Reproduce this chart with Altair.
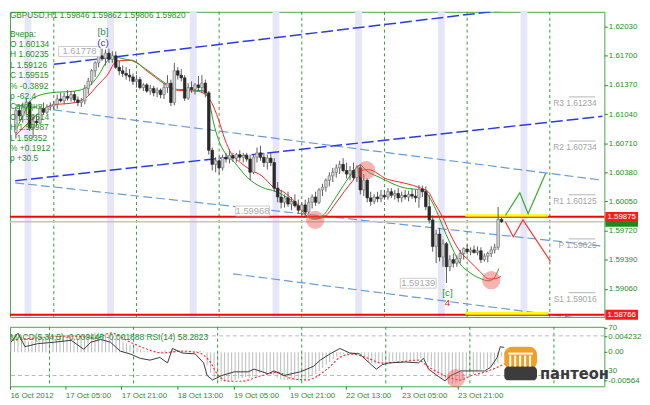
import altair as alt
import pandas as pd

# ---------------- data ----------------
opens = [1.6083, 1.6108, 1.6102, 1.6112, 1.6117, 1.6088, 1.6096, 1.6094, 1.6110, 1.6106,
         1.6112, 1.6113, 1.6115, 1.6121, 1.6119, 1.6124, 1.6122, 1.6126, 1.6120, 1.6117,
         1.6119, 1.6133, 1.6141, 1.6153, 1.6162, 1.6170, 1.6167, 1.6173, 1.6166, 1.6170,
         1.6157, 1.6153, 1.6150, 1.6148, 1.6146, 1.6141, 1.6143, 1.6134, 1.6137, 1.6130,
         1.6133, 1.6128, 1.6131, 1.6126, 1.6134, 1.6139, 1.6117, 1.6153, 1.6148, 1.6145,
         1.6122, 1.6134, 1.6132, 1.6137, 1.6134, 1.6139, 1.6128, 1.6063, 1.6047, 1.6051,
         1.6043, 1.6055, 1.6053, 1.6057, 1.6054, 1.6058, 1.6055, 1.6057, 1.6053, 1.6038,
         1.6055, 1.6060, 1.6055, 1.6049, 1.6054, 1.6049, 1.6020, 1.6010, 1.6004, 1.6009,
         1.6002, 1.6005, 1.6000, 1.5995, 1.6001, 1.5993, 1.6004, 1.6010, 1.6004, 1.6018,
         1.6021, 1.6029, 1.6034, 1.6038, 1.6043, 1.6047, 1.6040, 1.6036, 1.6040, 1.6032,
         1.6043, 1.6018, 1.6029, 1.6009, 1.6005, 1.6010, 1.6008, 1.6012, 1.6010, 1.6016,
         1.6012, 1.6014, 1.6009, 1.6012, 1.6010, 1.6013, 1.6011, 1.6009, 1.6019, 1.6016,
         1.5999, 1.5984, 1.5954, 1.5968, 1.5942, 1.5957, 1.5931, 1.5939, 1.5935, 1.5940,
         1.5946, 1.5951, 1.5948, 1.5950, 1.5947, 1.5949, 1.5939, 1.5943, 1.5946, 1.5950,
         1.5953, 1.59846]
highs = [1.6112, 1.6114, 1.6117, 1.6121, 1.6119, 1.6103, 1.6103, 1.6112, 1.6117, 1.6115,
         1.6117, 1.6119, 1.6126, 1.6128, 1.6128, 1.6131, 1.6130, 1.6130, 1.6124, 1.6122,
         1.6137, 1.6145, 1.6155, 1.6164, 1.6175, 1.6178, 1.6177, 1.6178, 1.6175, 1.6175,
         1.6164, 1.6159, 1.6157, 1.6155, 1.6150, 1.6148, 1.6146, 1.6139, 1.6139, 1.6137,
         1.6136, 1.6134, 1.6133, 1.6139, 1.6148, 1.6143, 1.6162, 1.6157, 1.6155, 1.6148,
         1.6139, 1.6141, 1.6139, 1.6147, 1.6148, 1.6143, 1.6130, 1.6066, 1.6055, 1.6056,
         1.6058, 1.6060, 1.6064, 1.6060, 1.6060, 1.6063, 1.6060, 1.6060, 1.6058, 1.6058,
         1.6066, 1.6068, 1.6060, 1.6058, 1.6060, 1.6054, 1.6027, 1.6018, 1.6013, 1.6016,
         1.6010, 1.6013, 1.6007, 1.6004, 1.6007, 1.6009, 1.6013, 1.6016, 1.6020, 1.6025,
         1.6031, 1.6038, 1.6043, 1.6047, 1.6051, 1.6054, 1.6049, 1.6045, 1.6049, 1.6046,
         1.6047, 1.6036, 1.6031, 1.6016, 1.6013, 1.6016, 1.6018, 1.6018, 1.6020, 1.6020,
         1.6018, 1.6020, 1.6016, 1.6018, 1.6017, 1.6019, 1.6018, 1.60235, 1.6023, 1.6022,
         1.6012, 1.5989, 1.5973, 1.5975, 1.5962, 1.5959, 1.5944, 1.5946, 1.5944, 1.5950,
         1.5953, 1.5956, 1.5953, 1.5955, 1.5954, 1.5953, 1.5946, 1.5948, 1.5954, 1.5957,
         1.59987, 1.59862]
lows = [1.6076, 1.6096, 1.6094, 1.6103, 1.6085, 1.6077, 1.6090, 1.6092, 1.6103, 1.6104,
        1.6108, 1.6109, 1.6110, 1.6117, 1.6115, 1.6119, 1.6118, 1.6117, 1.6113, 1.6112,
        1.6115, 1.6126, 1.6137, 1.6146, 1.6157, 1.6164, 1.6159, 1.6162, 1.6162, 1.6155,
        1.6148, 1.6146, 1.6143, 1.6141, 1.6137, 1.6134, 1.6132, 1.6130, 1.6128, 1.6126,
        1.6124, 1.6123, 1.6122, 1.6121, 1.6128, 1.6113, 1.6114, 1.6143, 1.6141, 1.6119,
        1.6120, 1.6128, 1.6126, 1.6130, 1.6128, 1.6123, 1.6058, 1.6040, 1.6038, 1.6036,
        1.6040, 1.6049, 1.6048, 1.6050, 1.6049, 1.6051, 1.6049, 1.6050, 1.6029, 1.6036,
        1.6049, 1.6051, 1.6044, 1.6041, 1.6045, 1.6016, 1.6004, 1.5997, 1.5998, 1.5999,
        1.5995, 1.5998, 1.5991, 1.5989, 1.5988, 1.5991, 1.5997, 1.6000, 1.6002, 1.6011,
        1.6016, 1.6022, 1.6027, 1.6032, 1.6036, 1.6038, 1.6031, 1.6029, 1.6029, 1.6027,
        1.6013, 1.6011, 1.6004, 1.6000, 1.6002, 1.6004, 1.6004, 1.6007, 1.6007, 1.6009,
        1.6007, 1.6004, 1.6004, 1.6007, 1.6005, 1.6008, 1.6004, 1.5998, 1.6010, 1.5995,
        1.5980, 1.5948, 1.5935, 1.5937, 1.5931, 1.59126, 1.5926, 1.5930, 1.5931, 1.5935,
        1.5939, 1.5945, 1.5944, 1.5946, 1.5944, 1.59352, 1.5937, 1.5936, 1.5942, 1.5946,
        1.5950, 1.59806]
closes = [1.6108, 1.6102, 1.6112, 1.6117, 1.6088, 1.6096, 1.6094, 1.6110, 1.6106, 1.6112,
          1.6113, 1.6115, 1.6121, 1.6119, 1.6124, 1.6122, 1.6126, 1.6120, 1.6117, 1.6119,
          1.6133, 1.6141, 1.6153, 1.6162, 1.6170, 1.6167, 1.6173, 1.6166, 1.6170, 1.6157,
          1.6153, 1.6150, 1.6148, 1.6146, 1.6141, 1.6143, 1.6134, 1.6137, 1.6130, 1.6133,
          1.6128, 1.6131, 1.6126, 1.6134, 1.6139, 1.6117, 1.6153, 1.6148, 1.6145, 1.6122,
          1.6134, 1.6132, 1.6137, 1.6134, 1.6139, 1.6128, 1.6063, 1.6047, 1.6051, 1.6043,
          1.6055, 1.6053, 1.6057, 1.6054, 1.6058, 1.6055, 1.6057, 1.6053, 1.6038, 1.6055,
          1.6060, 1.6055, 1.6049, 1.6054, 1.6049, 1.6020, 1.6010, 1.6004, 1.6009, 1.6002,
          1.6005, 1.6000, 1.5995, 1.6001, 1.5993, 1.6004, 1.6010, 1.6004, 1.6018, 1.6021,
          1.6029, 1.6034, 1.6038, 1.6043, 1.6047, 1.6040, 1.6036, 1.6040, 1.6032, 1.6043,
          1.6018, 1.6029, 1.6009, 1.6005, 1.6010, 1.6008, 1.6012, 1.6010, 1.6016, 1.6012,
          1.6014, 1.6009, 1.6012, 1.6010, 1.6013, 1.6011, 1.6009, 1.6019, 1.6016, 1.5999,
          1.5984, 1.5954, 1.5968, 1.5942, 1.5957, 1.5931, 1.5939, 1.5935, 1.5940, 1.5946,
          1.59515, 1.5948, 1.5950, 1.5947, 1.5949, 1.5939, 1.5943, 1.5946, 1.5950, 1.5953,
          1.59846, 1.59820]

ma_fast_i = [0, 2, 5, 10, 17, 21, 24, 26.5, 28.7, 30.7, 34, 37.7, 40.5, 43.3, 46.7, 52.3, 54.6,
             56, 57.4, 58.8, 60.7, 63.5, 67.2, 71.4, 75.6, 79.3, 82.1, 84.1, 86, 88.8, 91.6,
             94.4, 97.2, 100, 101.7, 105.7, 112.1, 118.6, 120, 122, 124.2, 126.7, 129, 131.2,
             134.6, 137.4, 138.8, 140.2]
ma_fast_p = [1.6085, 1.6102, 1.6122, 1.6128, 1.6130, 1.6135, 1.6148, 1.6164, 1.6169, 1.6167,
             1.6164, 1.6155, 1.6147, 1.6139, 1.6132, 1.6131, 1.6130, 1.6120, 1.6094, 1.6075,
             1.6060, 1.6049, 1.6032, 1.6021, 1.6016, 1.6008, 1.5999, 1.5990, 1.5985, 1.5988,
             1.6002, 1.6019, 1.6035, 1.6046, 1.6040, 1.6032, 1.6021, 1.6017, 1.6010, 1.5995,
             1.5974, 1.5952, 1.5934, 1.5926, 1.5918, 1.5915, 1.5918, 1.5929]
ma_slow_i = [0, 3.1, 6, 10.4, 17.2, 20.8, 23.6, 26.5, 29.3, 33.5, 38.3, 42.8, 46.7, 52.3, 55.1,
             56.8, 58.8, 60.7, 62.4, 65.2, 68, 71.4, 74.8, 77.6, 81.2, 84, 86.9, 89.7, 92.5,
             95.3, 98.1, 100, 102.3, 107.9, 111.3, 116.9, 119.7, 121.4, 123.9, 126.2, 129,
             131.8, 134.6, 137.4, 139.7, 140.8]
ma_slow_p = [1.6080, 1.6092, 1.6103, 1.6114, 1.6117, 1.6124, 1.6136, 1.6148, 1.6164, 1.6165,
             1.6152, 1.6139, 1.6131, 1.6130, 1.6126, 1.6117, 1.6098, 1.6075, 1.6060, 1.6049,
             1.6041, 1.6034, 1.6021, 1.6016, 1.6004, 1.5993, 1.5985, 1.5988, 1.6001, 1.6016,
             1.6030, 1.6040, 1.6041, 1.6030, 1.6027, 1.6021, 1.6016, 1.6004, 1.5987, 1.5967,
             1.5948, 1.5937, 1.5926, 1.5917, 1.5918, 1.5920]

fc_up_i = [142.1, 146.3, 148.7, 153.8]
fc_up_p = [1.5989, 1.60148, 1.5991, 1.6037]
fc_dn_i = [142.1, 144.4, 147.2, 155.2]
fc_dn_p = [1.5982, 1.5965, 1.5984, 1.5937]

chan_dark_i = [[11, 150], [-0.2, 170.3]]
chan_dark_p = [[1.61603, 1.62256], [1.60285, 1.61014]]
chan_light_i = [[-0.2, 170.3], [-0.2, 170.3], [63, 170.3]]
chan_light_p = [[1.61143, 1.60290], [1.60260, 1.59544], [1.59229, 1.58692]]

red_levels = [1.59875, 1.58766]
bid_price = 1.59820
pivot_names = ["R3", "R2", "R1", "P", "S1"]
pivot_vals = [1.61234, 1.60734, 1.60125, 1.59625, 1.59016]

day_bars = [11, 35, 59, 83, 107, 131, 155]
band_start = [2.5, 26.5, 50.5, 74.5, 98.5, 122.5, 146.5]
band_end = [4.5, 28.5, 52.5, 76.5, 100.5, 124.5, 148.5]

x_tick_bars = [0, 16, 32, 48, 64, 80, 96, 112, 128]
x_tick_labels = ["16 Oct 2012", "17 Oct 05:00", "17 Oct 21:00", "18 Oct 13:00", "19 Oct 05:00",
                 "19 Oct 21:00", "22 Oct 13:00", "23 Oct 05:00", "23 Oct 21:00"]
price_ticks = [1.62030, 1.61700, 1.61370, 1.61040, 1.60710, 1.60380, 1.60050, 1.59720, 1.59390, 1.59060]

circle_i = [86.9, 101.7, 138.0]
circle_p = [1.59841, 1.60403, 1.59157]

box_text = ["1.61778", "1.59968", "1.59139"]
box_i0 = [12.4, 63.8, 111.6]
box_i1 = [24.5, 73.6, 122.0]
box_p = [1.61749, 1.59942, 1.59123]

macd_hist = [0.0022, 0.0024, 0.0026, 0.0025, 0.0020, 0.0018, 0.0019, 0.0023, 0.0024, 0.0026, 0.0026,
             0.0027, 0.0028, 0.0027, 0.0028, 0.0027, 0.0028, 0.0026, 0.0024, 0.0023, 0.0026,
             0.0029, 0.0031, 0.0032, 0.0033, 0.0033, 0.0033, 0.0031, 0.0030, 0.0027, 0.0024,
             0.0021, 0.0018, 0.0015, 0.0012, 0.0010, 0.0007, 0.0005, 0.0003, 0.0002, 0.0001,
             0.0000, -0.0001, 0.0002, 0.0004, 0.0001, 0.0006, 0.0005, 0.0004, 0.0001, 0.0001,
             0.0001, 0.0002, 0.0002, 0.0003, 0.0001,
             -0.0022, -0.0034, -0.0042, -0.0048, -0.0049, -0.0049, -0.0048, -0.0047, -0.0046, -0.0044,
             -0.0043, -0.0041, -0.0042, -0.0040, -0.0037, -0.0035, -0.0034, -0.0033, -0.0032, -0.0038,
             -0.0042, -0.0045, -0.0046, -0.0046, -0.0046, -0.0046, -0.0047, -0.0046, -0.0046, -0.0043,
             -0.0040, -0.0036, -0.0031, -0.0026, -0.0021, -0.0016, -0.0011, -0.0007, -0.0004, -0.0003,
             -0.0003, -0.0003, -0.0004, -0.0002, -0.0007, -0.0011, -0.0016, -0.0018, -0.0019, -0.0019,
             -0.0018, -0.0017, -0.0016, -0.0015, -0.0015, -0.0014, -0.0014, -0.0013, -0.0013, -0.0012,
             -0.0012, -0.0010, -0.0011, -0.0016, -0.0024, -0.0034, -0.0038, -0.0044, -0.0045, -0.0052,
             -0.0052, -0.0051, -0.0049, -0.0046, -0.0042, -0.0039, -0.0036, -0.0032, -0.0029, -0.0028,
             -0.0026, -0.0024, -0.0021, -0.0018, -0.0007, -0.000445]
sig_i = [0.3, 7.6, 17.2, 24.5, 28.4, 34, 38.5, 43.3, 48.9, 53.7, 56.5, 59.3, 62.1, 65.8, 71.4,
         76.2, 79.8, 84.6, 87.4, 90.2, 94.7, 97.5, 101.5, 106, 110.7, 116.3, 119.1, 121.9,
         125.6, 128.4, 131.2, 135.2, 138.8, 141]
sig_v = [0.0020, 0.0024, 0.0027, 0.0024, 0.0032, 0.0017, 0.0006, -0.0001, 0.0002, -0.0001,
         -0.0013, -0.0039, -0.0048, -0.0048, -0.0039, -0.0033, -0.0043, -0.0046, -0.0040,
         -0.0028, -0.0006, -0.0003, -0.0009, -0.0018, -0.0016, -0.0013, -0.0024, -0.0033,
         -0.0043, -0.0046, -0.0039, -0.0033, -0.0025, -0.0019]
rsi_i = [0, 2, 4, 7.6, 12.4, 17.2, 20.8, 22.8, 25.6, 28.4, 31.2, 34, 36.9, 39.7, 42.5, 44.7,
         46.1, 48.9, 52.6, 55, 56, 57.5, 60.2, 63.8, 67.7, 69.4, 73.4, 75.1, 77.9, 82.6, 86.3,
         88.3, 91.1, 93.9, 96.7, 99.5, 102.3, 104.3, 106, 107.9, 112.7, 116.3, 117.8, 119.2,
         122, 123.9, 125.6, 128.4, 131.2, 135.2, 136.9, 138.8, 139.7, 140.8]
rsi_v = [63.6, 72.7, 59.1, 62.1, 63.6, 65.5, 56.4, 63.6, 66.4, 63.6, 54.6, 51.8, 47.3, 45.5,
         48.2, 42.7, 57.3, 52.7, 51.8, 42.7, 30.0, 25.5, 30.0, 33.7, 33.7, 36.4, 31.8, 34.6,
         30.0, 33.7, 39.1, 45.5, 51.8, 57.3, 52.7, 51.8, 42.7, 36.4, 40.9, 42.7, 43.6, 42.7,
         47.3, 36.4, 29.1, 24.6, 30.0, 34.6, 34.6, 34.6, 38.2, 48.2, 59.1, 58.3]
rsi_levels = [70, 30]

info_lines = ["Вчера:", "O 1.60134", "H 1.60235", "L 1.59126", "C 1.59515", "% -0.3892",
              "p -62.4", "", "Сегодня:", "O 1.59514", "H 1.59987", "L 1.59352", "% +0.1912",
              "p +30.5"]
title_text = "GBPUSD,H1  1.59846 1.59862 1.59806 1.59820"
ind_text = "MACD(5,34,5) -0.000445 -0.001888  RSI(14) 58.2823"

# ---------------- layout ----------------
W, HM, HI = 600, 308, 60
X_DOM = [-0.28, 169.4]
Y_DOM = [1.58741, 1.62198]
MACD_DOM = [-0.00564, 0.004232]
RSI_DOM = [19.1, 79.1]
GREEN = "#1f8f1f"
FONT = "Liberation Sans"

XS = alt.Scale(domain=X_DOM, nice=False, zero=False)
YS = alt.Scale(domain=Y_DOM, nice=False, zero=False)

price_axis = alt.Axis(orient="right", values=price_ticks, format=".5f", tickSize=3, labelPadding=1,
                      title=None, labelOverlap=False, domain=False, grid=False)
label_js = "[" + ",".join(f"'{s}'" for s in x_tick_labels) + "][round((datum.value + 0.5) / 16)]"
x_axis = alt.Axis(values=[max(b - 0.5, X_DOM[0]) for b in x_tick_bars], labelExpr=label_js,
                  labelAlign="left", tickSize=3, labelPadding=2, title=None, labelOverlap=False,
                  labelFlush=False, labelBound=False, domain=False, grid=False)


def xq(f):
    return alt.X(f, type="quantitative", scale=XS, axis=None)


def xi(f):
    return alt.X(f, type="quantitative", scale=XS, axis=x_axis)


def yq(f):
    return alt.Y(f, type="quantitative", scale=YS, axis=price_axis)


one = pd.DataFrame({"a": [0]})

n = len(closes)
candles = pd.DataFrame({"i": list(range(n)), "o": opens, "h": highs, "l": lows, "c": closes})
candles["lo"] = candles[["o", "c"]].min(axis=1)
candles["hi"] = candles[["o", "c"]].max(axis=1)

df_bands = pd.DataFrame({"s": band_start, "e": band_end})
df_days = pd.DataFrame({"d": day_bars})


def seg_df(ii, pp):
    rows = []
    for k, (a, b) in enumerate(zip(ii, pp)):
        for x, y in zip(a, b):
            rows.append({"id": k, "i": x, "p": y})
    return pd.DataFrame(rows)


df_dark = seg_df(chan_dark_i, chan_dark_p)
df_light = seg_df(chan_light_i, chan_light_p)

bands = alt.Chart(df_bands).mark_rect(color="#e6e6f8").encode(
    x=xq("s"), x2="e", y=alt.value(0), y2=alt.value(HM))
vlines = alt.Chart(df_days).mark_rule(color="#2f9e2f", strokeDash=[3, 3], strokeWidth=1).encode(x=xq("d"))

light_lines = alt.Chart(df_light).mark_line(clip=True, color="#6c9bd2", strokeWidth=1.2,
                                            strokeDash=[9, 4]).encode(x=xq("i"), y=yq("p"), detail="id:N")
dark_lines = alt.Chart(df_dark).mark_line(clip=True, color="#2b3be0", strokeWidth=1.5,
                                          strokeDash=[12, 4]).encode(x=xq("i"), y=yq("p"), detail="id:N")

bid_line = alt.Chart(pd.DataFrame({"p": [bid_price]})).mark_rule(color="#c4c4c4", strokeWidth=1.5).encode(y=yq("p"))
red_lines = alt.Chart(pd.DataFrame({"p": red_levels})).mark_rule(color="#ff0000", strokeWidth=2).encode(y=yq("p"))
df_yel = pd.DataFrame({"p": red_levels})
df_yel["x1"] = 130.5
df_yel["x2"] = 154.5
df_yel["p2"] = df_yel["p"] + 0.0003
yellow = alt.Chart(df_yel).mark_rect(color="#ffff00").encode(x=xq("x1"), x2="x2", y=yq("p"), y2="p2")

df_piv = pd.DataFrame({"n": pivot_names, "p": pivot_vals})
df_piv["label"] = df_piv["n"] + " " + df_piv["p"].map(lambda v: f"{v:.5f}")
df_piv["x1"] = 160.5
df_piv["x2"] = 168.2
df_piv["xt"] = 168.6
piv_rule = alt.Chart(df_piv).mark_rule(color="#b4b4b4", strokeWidth=1).encode(x=xq("x1"), x2="x2", y=yq("p"))
piv_text = alt.Chart(df_piv).mark_text(align="right", baseline="top", dy=2, font=FONT, fontSize=8.5,
                                       color="#a4a4a4").encode(x=xq("xt"), y=yq("p"), text="label:N")

ma_slow = alt.Chart(pd.DataFrame({"i": ma_slow_i, "p": ma_slow_p})).mark_line(
    color="#ff2020", strokeWidth=1, interpolate="monotone").encode(x=xq("i"), y=yq("p"))
ma_fast = alt.Chart(pd.DataFrame({"i": ma_fast_i, "p": ma_fast_p})).mark_line(
    color="#22a022", strokeWidth=1, interpolate="monotone").encode(x=xq("i"), y=yq("p"))

wicks = alt.Chart(candles).mark_rule(color="#5a5a5a", strokeWidth=1).encode(x=xq("i"), y=yq("l"), y2="h")
bull = "datum.c >= datum.o"
bodies = alt.Chart(candles).mark_bar(size=2.6, strokeWidth=0.7).encode(
    x=xq("i"), y=yq("lo"), y2="hi",
    fill=alt.condition(bull, alt.value("#d4d4d4"), alt.value("#2a2a2a")),
    stroke=alt.condition(bull, alt.value("#777777"), alt.value("#2a2a2a")))

fc_up = alt.Chart(pd.DataFrame({"i": fc_up_i, "p": fc_up_p})).mark_line(color="#33aa33", strokeWidth=1.2).encode(
    x=xq("i"), y=yq("p"))
fc_dn = alt.Chart(pd.DataFrame({"i": fc_dn_i, "p": fc_dn_p})).mark_line(color="#ff3333", strokeWidth=1.2).encode(
    x=xq("i"), y=yq("p"))

circles = alt.Chart(pd.DataFrame({"i": circle_i, "p": circle_p})).mark_circle(
    size=340, color="#ee5555", opacity=0.45).encode(x=xq("i"), y=yq("p"))

df_box = pd.DataFrame({"t": box_text, "x1": box_i0, "x2": box_i1, "p": box_p})
df_box["xc"] = (df_box["x1"] + df_box["x2"]) / 2
df_box["pt"] = df_box["p"] + 0.00056
df_box["pb"] = df_box["p"] - 0.00056
box_rect = alt.Chart(df_box).mark_rect(fill="white", stroke="#cccccc", strokeWidth=1).encode(
    x=xq("x1"), x2="x2", y=yq("pt"), y2="pb")
box_txt = alt.Chart(df_box).mark_text(font=FONT, fontSize=9.5, color="#a8a8a8").encode(
    x=xq("xc"), y=yq("p"), text="t:N")

df_ann = pd.DataFrame({"t": ["[b]", "(c)", "[c]", "4"], "i": [25.3, 25.3, 125.3, 125.3],
                       "p": [1.61974, 1.61839, 1.59011, 1.58899],
                       "col": ["#2e8a62", "#3a3ad0", "#2a9a2a", "#ee2222"]})
ann = alt.Chart(df_ann).mark_text(font=FONT, fontSize=10).encode(
    x=xq("i"), y=yq("p"), text="t:N", color=alt.Color("col:N", scale=None))

# price tags at the right edge (the green bid tag sits mostly under the red one)
df_tag = pd.DataFrame({"p": [bid_price, red_levels[0], red_levels[1]],
                       "col": ["#1d8a1d", "#ff1a1a", "#ff1a1a"]})
df_tag["t"] = df_tag["p"].map(lambda v: f"{v:.5f}")
df_tag["pt"] = df_tag["p"] + 0.00056
df_tag["pb"] = df_tag["p"] - 0.00056
tag_rect = alt.Chart(df_tag).mark_rect().encode(
    x=alt.value(W + 1), x2=alt.value(W + 34), y=yq("pt"), y2="pb", fill=alt.Color("col:N", scale=None))
df_tag_red = df_tag[df_tag["col"] == "#ff1a1a"]
tag_txt = alt.Chart(df_tag_red).mark_text(font=FONT, fontSize=8, color="white").encode(
    x=alt.value(W + 17.5), y=yq("p"), text="t:N")

title_mark = alt.Chart(one).mark_text(align="left", baseline="middle", font=FONT, fontSize=8.3,
                                      color=GREEN).encode(x=alt.value(0), y=alt.value(4),
                                                          text=alt.value(title_text))
info_mark = alt.Chart(one).mark_text(align="left", baseline="top", font=FONT, fontSize=8.5,
                                     color=GREEN, lineBreak="\n", lineHeight=10.5).encode(
    x=alt.value(0), y=alt.value(18), text=alt.value("\n".join(info_lines)))

main = alt.layer(bands, vlines, light_lines, dark_lines, bid_line, red_lines, yellow,
                 piv_rule, piv_text, ma_slow, ma_fast, wicks, bodies, fc_up, fc_dn, circles,
                 box_rect, box_txt, ann, tag_rect, tag_txt, title_mark, info_mark).properties(
    width=W, height=HM)

# ---------------- indicator panel ----------------
MS = alt.Scale(domain=MACD_DOM, nice=False, zero=False)
RS = alt.Scale(domain=RSI_DOM, nice=False, zero=False)

df_h = pd.DataFrame({"i": list(range(len(macd_hist))), "v": macd_hist})
df_h["z"] = 0.0
hist = alt.Chart(df_h).mark_rule(color="#b9b9b9", strokeWidth=1).encode(
    x=xi("i"), y=alt.Y("z", type="quantitative", scale=MS, axis=None), y2="v")
ind_vlines = alt.Chart(df_days).mark_rule(color="#2f9e2f", strokeDash=[3, 3], strokeWidth=1).encode(x=xi("d"))
rsi_lv = alt.Chart(pd.DataFrame({"r": rsi_levels})).mark_rule(color="#b8b8b8", strokeDash=[4, 3]).encode(
    y=alt.Y("r", type="quantitative", scale=RS, axis=None))
sig = alt.Chart(pd.DataFrame({"i": sig_i, "v": sig_v})).mark_line(
    color="#ff2a2a", strokeWidth=1.2, strokeDash=[2, 2], interpolate="monotone").encode(
    x=xi("i"), y=alt.Y("v", type="quantitative", scale=MS, axis=None))
rsi = alt.Chart(pd.DataFrame({"i": rsi_i, "r": rsi_v})).mark_line(color="#3a3a3a", strokeWidth=1).encode(
    x=xi("i"), y=alt.Y("r", type="quantitative", scale=RS, axis=None))
ind_circle = alt.Chart(pd.DataFrame({"i": [127], "v": [-0.0043]})).mark_circle(
    size=340, color="#ee5555", opacity=0.45).encode(
    x=xi("i"), y=alt.Y("v", type="quantitative", scale=MS, axis=None))
ind_title = alt.Chart(one).mark_text(align="left", baseline="middle", font=FONT, fontSize=8.5,
                                     color=GREEN).encode(x=alt.value(0), y=alt.value(10),
                                                         text=alt.value(ind_text))

side = []
for txt, yy in [("70", 1.5), ("0.004232", 10), ("0.00", 25.7), ("30", 45), ("-0.00564", 54.5)]:
    side.append(alt.Chart(one).mark_text(align="left", baseline="middle", font=FONT, fontSize=8,
                                         color=GREEN).encode(x=alt.value(W + 4), y=alt.value(yy),
                                                             text=alt.value(txt)))
    side.append(alt.Chart(one).mark_rule(color=GREEN).encode(
        x=alt.value(W), x2=alt.value(W + 3), y=alt.value(yy)))

logo = [
    alt.Chart(one).mark_rect(color="#f0a028", cornerRadius=8).encode(
        x=alt.value(499), x2=alt.value(532), y=alt.value(20), y2=alt.value(43)),
    alt.Chart(one).mark_rect(color="#3c3c3c", cornerRadius=4).encode(
        x=alt.value(499), x2=alt.value(532), y=alt.value(40), y2=alt.value(54)),
    alt.Chart(one).mark_rect(color="white").encode(
        x=alt.value(503), x2=alt.value(528), y=alt.value(26), y2=alt.value(28)),
]
for cx in [504, 509, 514, 519, 524]:
    logo.append(alt.Chart(one).mark_rect(color="white").encode(
        x=alt.value(cx), x2=alt.value(cx + 2), y=alt.value(29), y2=alt.value(40)))
logo.append(alt.Chart(one).mark_text(align="left", baseline="alphabetic", font="DejaVu Sans Condensed",
                                     fontSize=16.5, fontWeight="bold", color="#3a3a3a").encode(
    x=alt.value(535), y=alt.value(53), text=alt.value("пантеон")))

ind = alt.layer(hist, ind_vlines, rsi_lv, sig, rsi, ind_circle, ind_title, *side, *logo).resolve_scale(
    y="independent").properties(width=W, height=HI)

chart = alt.vconcat(main, ind, spacing=3).properties(padding=0, background="white").configure_view(
    stroke="#4fa34f", strokeWidth=1).configure_axis(
    labelFont=FONT, labelFontSize=8, labelColor=GREEN, tickColor=GREEN)

chart.save("out.html", embed_options={"renderer": "svg", "actions": False})
